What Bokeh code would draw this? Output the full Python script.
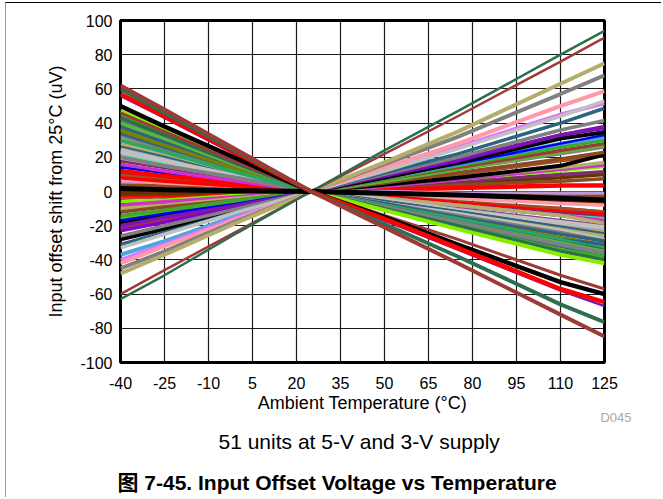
from bokeh.plotting import figure
from bokeh.models import Range1d, FixedTicker, Title
from bokeh.embed import file_html
from bokeh.resources import INLINE

# ---------------- data ----------------
temps = [-40, -25, 0, 25, 50, 75, 110, 125]
x_ticks = [-40, -25, -10, 5, 20, 35, 50, 65, 80, 95, 110, 125]
y_ticks = [-100, -80, -60, -40, -20, 0, 20, 40, 60, 80, 100]

# offset shift (uV) of each unit at the temperatures above
rising_mid = [
    [-4, -3, -1, 0, 5, 10, 18, 21],
    [-11, -8, -4, 0, 2, 5, 9, 10],
    [-7, -5, -2, 0, 2, 5, 8, 10],
    [-9, -7, -3, 0, 2, 4, 6, 7.5],
    [-2, -2, -1, 0, 1, 2, 3.5, 3.5],
    [-21, -16, -8, 0, 3, 6, 10, 11.5],
    [-6, -5, -2, 0, 3, 7, 12, 14.4],
    [-8, -6, -3, 0, 3, 7, 13, 15.5],
    [-10, -8, -4, 0, 4, 8, 14, 17],
    [-18, -14, -7, 0, 4, 8, 15, 21.6],
    [-12, -9, -5, 0, 5, 11, 19, 23],
    [-16, -12, -6, 0, 6, 13, 22, 26],
    [-15, -12, -6, 0, 6, 13, 23, 27],
    [-22, -17, -8, 0, 7, 14, 24, 28],
    [-14, -11, -5, 0, 7, 15, 26, 30],
    [-37, -29, -14, 0, 8, 16, 28, 31.7],
    [-17, -13, -7, 0, 8, 16, 28, 33],
    [-28, -22, -11, 0, 8, 17, 31, 34.7],
    [-23, -18, -9, 0, 9, 18, 33, 37],
    [-20, -15, -8, 0, 10, 19, 33, 38],
]
rising_mid_colors = [
    "#A0522D", "#B5AE6A", "#663300", "#8B4A22", "#FF0000", "#7A3070",
    "#88EE00", "#CC33CC", "#B5AE6A", "#000000", "#8B4A22", "#808080",
    "#55BB33", "#9E3B39", "#3DA82A", "#4AA6DD", "#0000EE", "#000000",
    "#8800CC", "#7B16B5",
]
rising_mid_widths = [3.5, 3.5, 3.5, 3.5, 4.5, 3.5, 3, 3.5, 3.5, 4, 3.5, 3.5,
                     3.5, 3.5, 3.5, 4, 2.5, 4, 3.5, 3.5]

falling_mid = [
    [41, 32, 15, 0, -10, -19, -32, -37],
    [37, 28, 14, 0, -8, -17, -29, -33],
    [25, 19, 9, 0, -6, -12, -20, -23],
    [21, 16, 8, 0, -5, -10, -17, -20],
    [15, 11, 5, 0, -4, -8, -13, -16],
    [-1, -1, 0, 0, -2, -3, -5, -6],
    [5, 4, 2, 0, 0, -1, -1, -1],
    [3.5, 3, 1, 0, -1, -2, -3, -3],
    [7, 5, 3, 0, -2, -4, -7, -8],
    [10, 8, 4, 0, -3, -6, -10, -12],
    [9, 7, 3, 0, -3, -7, -10, -12],
    [8, 6, 3, 0, -3, -7, -12, -13],
    [14, 11, 5, 0, -3, -7, -12, -14],
    [12, 9, 5, 0, -3, -7, -12, -14],
    [18, 14, 7, 0, -4, -8, -13, -15],
    [22, 17, 8, 0, -4, -8, -14, -16],
    [16, 12, 6, 0, -4, -8, -14, -17],
    [19.6, 15, 8, 0, -4, -8, -14, -18.6],
    [24, 18, 9, 0, -5, -11, -18, -21],
    [31, 24, 12, 0, -6, -13, -22, -24],
    [29.8, 23, 11, 0, -6, -12, -21, -25],
    [27, 21, 10, 0, -6, -12, -21, -25],
    [28, 22, 11, 0, -7, -13, -22, -26],
    [33, 25, 12, 0, -7, -14, -24, -28],
    [23, 18, 9, 0, -7, -13, -23, -28],
    [20, 15, 8, 0, -7, -14, -24, -29],
    [34, 26, 13, 0, -7, -15, -25, -29],
    [35.7, 27, 13, 0, -8, -16, -27, -31],
    [38, 29, 15, 0, -9, -17, -28, -31],
    [30, 23, 11, 0, -8, -16, -28, -34],
    [44, 34, 17, 0, -9, -18, -30, -34.5],
    [40, 31, 15, 0, -9, -18, -30, -35],
    [42.7, 33, 16, 0, -9, -18, -31, -36],
    [45, 34, 17, 0, -10, -20, -34, -38],
    [43, 33, 16, 0, -10, -20, -35, -40],
    [47, 36, 18, 0, -11, -22, -37, -42],
]
falling_mid_colors = [
    "#336680", "#5BAA3A", "#A0A0A0", "#884488", "#2E6480",
    "#663300", "#BB99DD", "#8B4A22", "#FF99A8", "#8B4A22", "#A0522D",
    "#FF0000", "#0000EE", "#FF0000", "#7A3070", "#44DD99", "#CC33CC",
    "#B5AE6A", "#C0C0C0", "#B5AE6A", "#CC2255", "#2E6480", "#B5AE6A",
    "#808080", "#C0C0C0", "#808080", "#2E6480", "#808000", "#2E6480",
    "#22AA66", "#2E6480", "#55BB33", "#808080", "#3DA82A", "#2D6E4E",
    "#88EE00",
]
falling_mid_widths = [3.5, 3.5, 3.5, 3.5, 3.5,
                      4.5, 3.5, 4, 3.5, 3.5, 3.5, 3.5, 2.5, 4.5, 3.5, 3.5,
                      3.5, 3.5, 4.5, 4, 3.5, 4, 3.5, 4, 4, 3.5, 3.5, 3.5,
                      3.5, 3.5, 4.5, 3.5, 4, 3.5, 3.5, 4]

rising_outer = [
    [-26, -20, -10, 0, 10, 20, 36, 41.5],
    [-31, -24, -12, 0, 11, 22, 40, 48.7],
    [-40, -31, -15, 0, 13, 26, 45, 51.6],
    [-33, -25, -12, 0, 12, 25, 44, 53],
    [-42, -32, -16, 0, 14, 28, 50, 58.7],
    [-45, -35, -17, 0, 16, 32, 57, 68],
    [-48, -37, -18, 0, 17, 35, 63, 75],
    [-60, -46, -23, 0, 22, 44, 76, 90],
    [-63, -49, -24, 0, 24, 47, 80, 94],
]
rising_outer_colors = [
    "#808080", "#2E6480", "#DD77FF", "#C0C0C0",
    "#FF99A8", "#808080", "#B5AE6A", "#9E3B39", "#2D6E4E",
]
rising_outer_widths = [3.5, 3.5, 4, 3.5, 4, 4, 4, 2.5, 2.5]

falling_outer = [
    [1.8, 1, 0.5, 0, -1, -2, -4, -5],
    [46, 35, 17, 0, -14, -28, -49, -57],
    [56, 43, 21, 0, -17, -34, -58, -67],
    [50, 38, 19, 0, -15, -31, -53, -60],
    [57, 44, 22, 0, -16, -33, -57, -64.7],
    [60, 46, 23, 0, -19, -38, -66, -76.4],
    [62, 48, 24, 0, -21, -42, -72, -84.8],
]
falling_outer_colors = [
    "#000000", "#9E3B39", "#7B16B5", "#000000", "#FF0000",
    "#2D6E4E", "#9E3B39",
]
falling_outer_widths = [5, 3, 2.5, 4.5, 4.5, 4, 4]

caption = "51 units at 5-V and 3-V supply"
fig_title = "图 7-45. Input Offset Voltage vs Temperature"
x_label = "Ambient Temperature (°C)"
y_label = "Input offset shift from 25°C (uV)"
code_label = "D045"

# ---------------- figure ----------------
FONT = "Liberation Sans"
p = figure(width=656, height=495, output_backend="svg", toolbar_location=None,
           x_range=Range1d(-40, 125), y_range=Range1d(-100, 100),
           min_border_left=114, min_border_right=58, min_border_top=17,
           min_border_bottom=136)
p.styles = {"margin-left": "5px", "margin-top": "2px",
            "border-left": "1px solid #999999", "border-top": "1px solid #000000"}

p.outline_line_color = "black"
p.outline_line_width = 3

for ax in (p.xaxis[0], p.yaxis[0]):
    ax.axis_line_color = None
    ax.major_tick_line_color = None
    ax.minor_tick_line_color = None
    ax.major_tick_out = 0
    ax.major_tick_in = 0
    ax.minor_tick_out = 0
    ax.minor_tick_in = 0
    ax.major_label_text_font = FONT
    ax.major_label_text_font_size = "16px"
    ax.major_label_text_color = "black"
    ax.axis_label_text_font = FONT
    ax.axis_label_text_font_size = "18px"
    ax.axis_label_text_font_style = "normal"
    ax.axis_label_text_color = "black"

p.xaxis.ticker = FixedTicker(ticks=x_ticks)
p.yaxis.ticker = FixedTicker(ticks=y_ticks)
p.xaxis.major_label_overrides = {t: str(t) for t in x_ticks}
p.yaxis.major_label_overrides = {t: str(t) for t in y_ticks}
p.xaxis.axis_label = x_label
p.yaxis.axis_label = y_label
p.xaxis.major_label_standoff = 14
p.yaxis.major_label_standoff = 8
p.xaxis.axis_label_standoff = 1
p.yaxis.axis_label_standoff = 11

p.xgrid.ticker = FixedTicker(ticks=x_ticks)
p.ygrid.ticker = FixedTicker(ticks=y_ticks)
for g in (p.xgrid[0], p.ygrid[0]):
    g.grid_line_color = "black"
    g.grid_line_width = 1.2
    g.grid_line_alpha = 0.9

for group, cols, wids in ((rising_mid, rising_mid_colors, rising_mid_widths),
                          (falling_mid, falling_mid_colors, falling_mid_widths),
                          (rising_outer, rising_outer_colors, rising_outer_widths),
                          (falling_outer, falling_outer_colors, falling_outer_widths)):
    p.multi_line([temps for _ in group], group, line_color=cols, line_width=wids)

p.add_layout(Title(text=code_label, align="right", offset=-27, standoff=-18,
                   text_font=FONT, text_font_size="13px", text_font_style="normal",
                   text_color="#AAAAAA"), "below")
p.add_layout(Title(text=caption, align="left", offset=98, standoff=24,
                   text_font=FONT, text_font_size="21px", text_font_style="normal",
                   text_color="black"), "below")
p.add_layout(Title(text=fig_title, align="left", offset=-3, standoff=9,
                   text_font="Liberation Sans, Noto Sans CJK SC",
                   text_font_size="21px", text_font_style="bold",
                   text_color="black"), "below")

open("out.html", "w").write(file_html(p, INLINE))
